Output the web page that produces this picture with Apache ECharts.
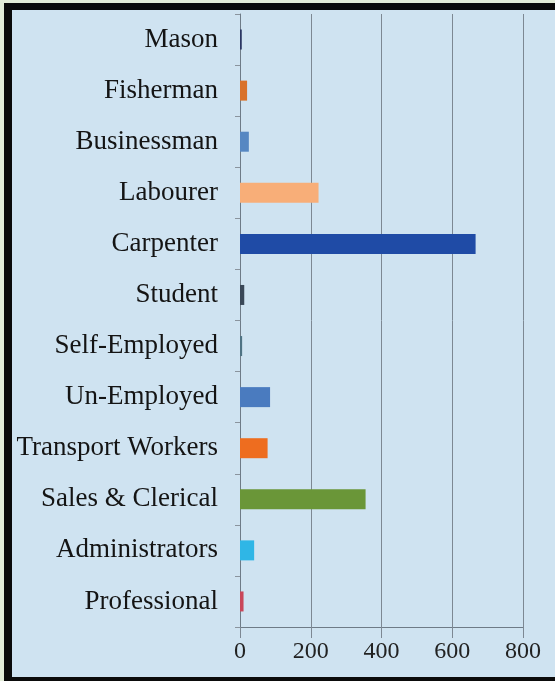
<!DOCTYPE html>
<html>
<head>
<meta charset="utf-8">
<script src="https://cdn.jsdelivr.net/npm/echarts@6/dist/echarts.min.js"></script>
<style>
  html, body { margin:0; padding:0; width:555px; height:681px; overflow:hidden; background:#e3ecd8; }
  #frame { position:absolute; left:4px; top:3px; width:600px; height:678px; background:#0b0b0b; }
  #inner { position:absolute; left:12px; top:10px; width:600px; height:667px; background:#cfe3f1; }
  #chart { position:absolute; left:0; top:0; width:555px; height:681px; }
</style>
</head>
<body>
<div id="frame"></div>
<div id="inner"></div>
<div id="chart"></div>
<script>
// Categories listed bottom to top
const categories = ["Professional", "Administrators", "Sales & Clerical", "Transport Workers", "Un-Employed", "Self-Employed", "Student", "Carpenter", "Labourer", "Businessman", "Fisherman", "Mason"];
const values = [10, 40, 355, 78, 85, 6, 12, 666, 222, 25, 20, 5];
const barColors = ["#c9475a", "#2fb6e6", "#6a9638", "#ee6d1f", "#4a7bbf", "#4f7384", "#3a4858", "#1f4ba6", "#f8ae78", "#5687c2", "#d9722b", "#2b3663"];
const xTicks = [0, 200, 400, 600, 800];

const chart = echarts.init(document.getElementById('chart'), null, { renderer: 'canvas' });
chart.setOption({
  backgroundColor: 'transparent',
  animation: false,
  grid: { left: 240, right: 32, top: 14, bottom: 54, containLabel: false },
  xAxis: {
    type: 'value',
    min: xTicks[0],
    max: xTicks[xTicks.length - 1],
    interval: 200,
    axisLine: { show: true, lineStyle: { color: '#6e7b87', width: 1 } },
    axisTick: { show: true, length: 11, lineStyle: { color: '#7d8893' } },
    splitLine: { show: true, lineStyle: { color: '#7d8893', width: 1 } },
    axisLabel: { color: '#222', fontFamily: 'Liberation Serif', fontSize: 24, margin: 13 }
  },
  yAxis: {
    type: 'category',
    data: categories,
    axisLine: { show: true, lineStyle: { color: '#6e7b87', width: 1 } },
    axisTick: { show: true, length: 5, lineStyle: { color: '#8a949e' } },
    axisLabel: { color: '#141414', fontFamily: 'Liberation Serif', fontSize: 27, margin: 22 }
  },
  series: [{
    type: 'bar',
    data: values.map((v, i) => ({ value: v, itemStyle: { color: barColors[i] } })),
    barWidth: 20
  }]
});
</script>
</body>
</html>
